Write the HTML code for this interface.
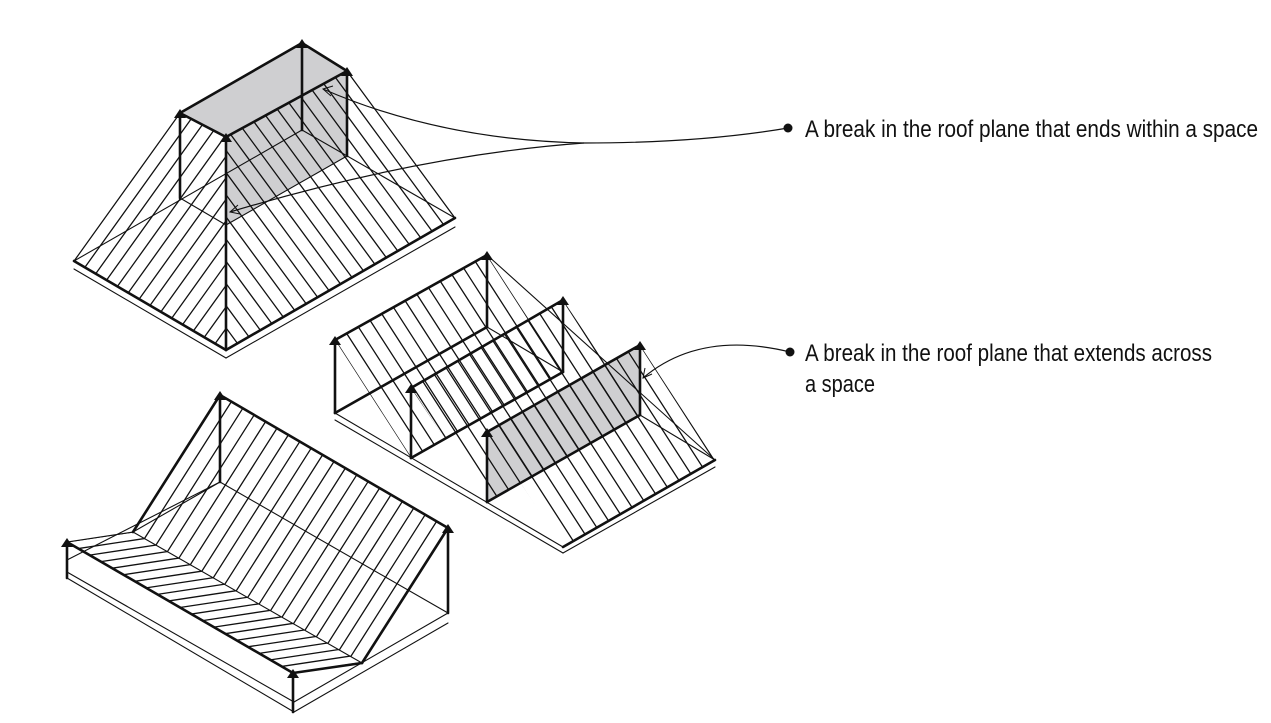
<!DOCTYPE html>
<html><head><meta charset="utf-8"><style>
html,body{margin:0;padding:0;background:#fff;width:1271px;height:723px;overflow:hidden;}
svg{display:block;}
text{font-family:"Liberation Sans",sans-serif;font-size:24px;fill:#111;}
</style></head><body>
<svg id="s" width="1271" height="723" viewBox="0 0 1271 723">
<defs id="defs"></defs>
<g id="fills"></g><g id="hatch"></g><g id="lines"></g><g id="heads"></g>
<g>
<path d="M788,128 Q700,143 584,143 Q440,140 323,89" fill="none" stroke="#111" stroke-width="1.2"/>
<path d="M584,143 Q420,155 230,212" fill="none" stroke="#111" stroke-width="1.2"/>
<path d="M333,86 L323,89 L331,96" fill="none" stroke="#111" stroke-width="1"/>
<path d="M238,205 L230,212 L240,214" fill="none" stroke="#111" stroke-width="1"/>
<circle cx="788" cy="128" r="4.5" fill="#111"/>
<text x="805" y="137" textLength="453" lengthAdjust="spacingAndGlyphs">A break in the roof plane that ends within a space</text>
</g>
<g>
<path d="M790,352 Q700,330 643,378" fill="none" stroke="#111" stroke-width="1.2"/>
<path d="M645,368 L643,378 L652,374" fill="none" stroke="#111" stroke-width="1"/>
<circle cx="790" cy="352" r="4.5" fill="#111"/>
<text x="805" y="361" textLength="407" lengthAdjust="spacingAndGlyphs">A break in the roof plane that extends across</text>
<text x="805" y="392" textLength="70" lengthAdjust="spacingAndGlyphs">a space</text>
</g>
</svg>
<script>
const NS='http://www.w3.org/2000/svg';
const grays=[
 [[180,113],[302,43],[347,71],[226,137]],
 [[226,137],[347,71],[347,156],[226,225]],
 [[487,432],[640,345],[640,415],[487,502]]
];
const hatches=[
 {poly:[[74,261],[180,113],[226,137],[226,350]],a:[74,261],b:[226,350],n:14,d:[106,-148]},
 {poly:[[226,350],[226,137],[347,71],[455,218]],a:[226,350],b:[455,218],n:20,d:[-108,-147]},
 {poly:[[335,340],[487,255],[563,372],[411,458]],a:[335,340],b:[487,255],n:13,d:[76,118]},
 {poly:[[411,388],[563,300],[640,415],[487,502]],a:[411,388],b:[563,300],n:13,d:[76,118]},
 {poly:[[487,432],[640,345],[715,460],[563,547]],a:[487,432],b:[640,345],n:13,d:[76,118]},
 {poly:[[220,395],[448,528],[362,663],[133,532]],a:[220,395],b:[448,528],n:20,d:[-87,137]},
 {poly:[[67,542],[133,532],[362,663],[293,673]],a:[67,542],b:[293,673],n:20,d:[66,-10]}
];
const thick=[
 [180,113,302,43],[302,43,347,71],[347,71,226,137],[226,137,180,113],
 [180,113,180,198],[226,137,226,350],[302,43,302,130],[347,71,347,156],
 [74,261,226,350],[226,350,455,218],
 [335,340,487,255],[335,340,335,413],[487,255,487,327],[335,413,487,327],
 [411,388,563,300],[411,388,411,458],[563,300,563,372],[411,458,563,372],
 [487,432,640,345],[487,432,487,502],[640,345,640,415],[487,502,640,415],
 [563,547,715,460],
 [220,395,220,482],[448,528,448,613],[220,395,448,528],[220,395,133,532],[448,528,362,663],
 [67,542,293,673],[293,673,362,663],[67,542,67,578],[293,673,293,712]
];
const thin=[
 [74,261,180,113],[455,218,347,71],[74,261,302,130],[302,130,455,218],
 [180,198,226,225],[226,225,347,156],
 [74,269,226,358],[226,358,455,227],
 [487,255,715,460],[487,327,563,372],[640,415,715,460],[335,413,563,547],[335,420,563,553],[563,553,715,467],
 [67,542,133,532],[133,532,362,663],[220,482,133,532],[220,482,448,613],[67,560,220,482],
 [67,572,294,702],[294,702,448,613],[67,578,294,712],[294,712,448,623]
];
const heads=[[302,43],[347,71],[180,113],[226,137],[335,340],[487,255],[411,388],[563,300],[487,432],[640,345],[220,395],[448,528],[67,542],[293,673]];
function ln(g,x1,y1,x2,y2,w,name){const l=document.createElementNS(NS,'line');
l.setAttribute('x1',x1);l.setAttribute('y1',y1);l.setAttribute('x2',x2);l.setAttribute('y2',y2);
l.setAttribute('stroke','#111');l.setAttribute('stroke-width',w);l.setAttribute('stroke-linecap','round');


g.appendChild(l);}
const fills=document.getElementById('fills'),hg=document.getElementById('hatch'),lg=document.getElementById('lines'),hd=document.getElementById('heads'),defs=document.getElementById('defs');
grays.forEach(p=>{const e=document.createElementNS(NS,'polygon');e.setAttribute('points',p.map(q=>q.join(',')).join(' '));e.setAttribute('fill','#cfcfd1');


fills.appendChild(e);});
hatches.forEach((h,i)=>{const cp=document.createElementNS(NS,'clipPath');cp.setAttribute('id','c'+i);
const pg=document.createElementNS(NS,'polygon');pg.setAttribute('points',h.poly.map(q=>q.join(',')).join(' '));cp.appendChild(pg);defs.appendChild(cp);
const g=document.createElementNS(NS,'g');g.setAttribute('clip-path','url(#c'+i+')');


hg.appendChild(g);
for(let k=0;k<=h.n;k++){const t=k/h.n;const x=h.a[0]+(h.b[0]-h.a[0])*t,y=h.a[1]+(h.b[1]-h.a[1])*t;
ln(g,x,y,x+h.d[0]*1.3,y+h.d[1]*1.3,1.3,'hatch-line');}});
thin.forEach(l=>ln(lg,...l,1.1,'thin-edge'));
thick.forEach(l=>ln(lg,...l,2.6,'thick-edge'));
heads.forEach(([x,y])=>{const e=document.createElementNS(NS,'polygon');e.setAttribute('points',`${x},${y-4} ${x-6},${y+5} ${x+6},${y+5}`);e.setAttribute('fill','#111');


hd.appendChild(e);});
</script>
</body></html>
